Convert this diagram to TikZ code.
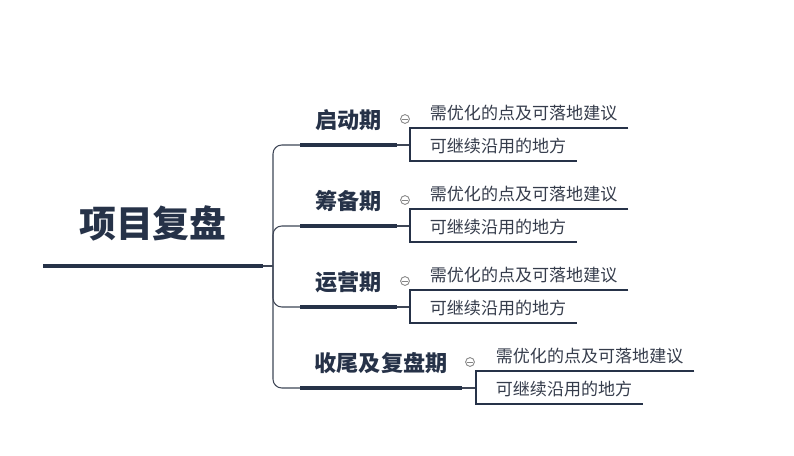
\documentclass[tikz,border=0pt]{standalone}
\usepackage{fontspec}
\newfontfamily\cjk{Noto Sans CJK SC}
\usepackage{tikz}
\definecolor{navy}{HTML}{263248}
\definecolor{linkgray}{HTML}{3E4656}
\definecolor{leafgray}{HTML}{353C4B}
\definecolor{foldgray}{HTML}{858585}

\begin{document}
\begin{tikzpicture}[x=0.02cm,y=-0.02cm,
	roottopic/.style={anchor=south west,inner sep=0pt,minimum width=124.7pt,minimum height=47.6pt,text=navy,font=\cjk\bfseries\fontsize{21}{25}\selectfont},
	maintopic/.style={anchor=south west,inner sep=0pt,minimum width=55pt,minimum height=28.3pt,text=navy,font=\cjk\bfseries\fontsize{12.6}{15}\selectfont},
	subtopic/.style={anchor=south west,inner xsep=6pt,inner ysep=0pt,minimum height=17pt,text=leafgray,font=\cjk\fontsize{9.7}{12}\selectfont},
	bigbar/.style={navy,line width=2.3pt},
	bar/.style={navy,line width=2pt},
	link/.style={linkgray,line width=0.6pt},
	leafline/.style={navy,line width=0.6pt},
	fold/.style={circle,draw=foldgray,line width=0.5pt,minimum size=5pt,inner sep=0pt}]
	\useasboundingbox (0,0) rectangle (794,456);

	% root
	\node[roottopic] (root) at (43,266) {项目复盘};
	\draw[bigbar] (root.south west) -- (root.south east);
	\coordinate (hub) at (273,266);
	\draw[link] (root.south east) -- (hub);

	% main topics
	\node[maintopic] (qidong) at (300,145) {启动期};
	\node[maintopic] (choubei) at (300,226) {筹备期};
	\node[maintopic] (yunying) at (300,307) {运营期};
	\node[maintopic,minimum width=91.8pt] (shouwei) at (300,388) {收尾及复盘期};
	\draw[bar] (qidong.south west) -- (qidong.south east);
	\draw[bar] (choubei.south west) -- (choubei.south east);
	\draw[bar] (yunying.south west) -- (yunying.south east);
	\draw[bar] (shouwei.south west) -- (shouwei.south east);

	\draw[link,rounded corners=5pt] (hub) |- (qidong.south west);
	\draw[link,rounded corners=5pt] (hub) |- (choubei.south west);
	\draw[link,rounded corners=5pt] (hub) |- (yunying.south west);
	\draw[link,rounded corners=5pt] (hub) |- (shouwei.south west);

	% fold buttons
	\node[fold] (qidongF) at (405,119) {};
	\node[fold] (choubeiF) at (405,200) {};
	\node[fold] (yunyingF) at (405,281) {};
	\node[fold] (shouweiF) at (470,362) {};
	\draw[foldgray,line width=0.5pt] ([xshift=-1.5pt]qidongF.center) -- ([xshift=1.5pt]qidongF.center);
	\draw[foldgray,line width=0.5pt] ([xshift=-1.5pt]choubeiF.center) -- ([xshift=1.5pt]choubeiF.center);
	\draw[foldgray,line width=0.5pt] ([xshift=-1.5pt]yunyingF.center) -- ([xshift=1.5pt]yunyingF.center);
	\draw[foldgray,line width=0.5pt] ([xshift=-1.5pt]shouweiF.center) -- ([xshift=1.5pt]shouweiF.center);

	% sub topics
	\coordinate (qidongK) at (410,145);
	\node[subtopic] (qidongA) at (419,128) {需优化的点及可落地建议};
	\node[subtopic] (qidongB) at (419,161) {可继续沿用的地方};
	\draw[link] (qidong.south east) -- (qidongK);
	\draw[leafline] (qidongA.south east) -- (qidongA.south west -| qidongK) -- (qidongB.south west -| qidongK) -- (qidongB.south east);

	\coordinate (choubeiK) at (410,226);
	\node[subtopic] (choubeiA) at (419,209) {需优化的点及可落地建议};
	\node[subtopic] (choubeiB) at (419,242) {可继续沿用的地方};
	\draw[link] (choubei.south east) -- (choubeiK);
	\draw[leafline] (choubeiA.south east) -- (choubeiA.south west -| choubeiK) -- (choubeiB.south west -| choubeiK) -- (choubeiB.south east);

	\coordinate (yunyingK) at (410,307);
	\node[subtopic] (yunyingA) at (419,290) {需优化的点及可落地建议};
	\node[subtopic] (yunyingB) at (419,323) {可继续沿用的地方};
	\draw[link] (yunying.south east) -- (yunyingK);
	\draw[leafline] (yunyingA.south east) -- (yunyingA.south west -| yunyingK) -- (yunyingB.south west -| yunyingK) -- (yunyingB.south east);

	\coordinate (shouweiK) at (476,388);
	\node[subtopic] (shouweiA) at (485,371) {需优化的点及可落地建议};
	\node[subtopic] (shouweiB) at (485,404) {可继续沿用的地方};
	\draw[link] (shouwei.south east) -- (shouweiK);
	\draw[leafline] (shouweiA.south east) -- (shouweiA.south west -| shouweiK) -- (shouweiB.south west -| shouweiK) -- (shouweiB.south east);
\end{tikzpicture}
\end{document}
